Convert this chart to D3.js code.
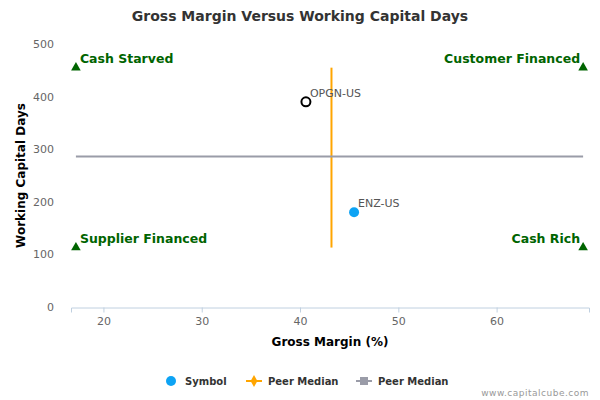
<!DOCTYPE html>
<html>
<head>
<meta charset="utf-8">
<script src="https://cdn.jsdelivr.net/npm/d3@7"></script>
<style>
  body { margin: 0; background: #fff; }
  svg { font-family: "DejaVu Sans", sans-serif; }
</style>
</head>
<body>
<svg id="chart" width="600" height="400"></svg>
<script>
// symbols: gross margin (%), working capital days
const symbols = ["OPGN-US", "ENZ-US"];
const grossMargin = [40.6, 45.5];
const workingDays = [390, 180];
const symbolFilled = [false, true];

// peer medians
const medianMargin = 43.2;
const medianDays = 286;

// quadrant corners
const quadrantNames = ["Cash Starved", "Customer Financed", "Supplier Financed", "Cash Rich"];
const quadrantMargin = [17.2, 68.8, 17.2, 68.8];
const quadrantDays = [455, 455, 113, 113];

const xTicks = [20, 30, 40, 50, 60];
const yTicks = [0, 100, 200, 300, 400, 500];

const svg = d3.select("#chart");
const plotLeft = 71, plotRight = 589, plotTop = 44, plotBottom = 307;

const x = d3.scaleLinear().domain([16.7, 69.4]).range([plotLeft, plotRight]);
const y = d3.scaleLinear().domain([0, 500]).range([plotBottom, plotTop]);

svg.append("text")
    .attr("x", 300).attr("y", 21)
    .attr("text-anchor", "middle")
    .attr("font-size", 14).attr("font-weight", "bold")
    .attr("fill", "#333")
    .text("Gross Margin Versus Working Capital Days");

// x axis
const xAxis = svg.append("g")
    .attr("transform", `translate(0,${plotBottom + 0.5})`)
    .call(d3.axisBottom(x).tickValues(xTicks).tickSize(5).tickPadding(5));
xAxis.select(".domain").attr("stroke", "#C0D0E0");
xAxis.selectAll(".tick line").attr("stroke", "#C0D0E0");
xAxis.selectAll("text").attr("fill", "#666").attr("font-size", 11)
    .attr("font-family", "DejaVu Sans");

// y axis, labels only
const yAxis = svg.append("g")
    .attr("transform", `translate(${plotLeft},0)`)
    .call(d3.axisLeft(y).tickValues(yTicks).tickSize(0).tickPadding(17));
yAxis.select(".domain").remove();
yAxis.selectAll("text").attr("fill", "#666").attr("font-size", 11)
    .attr("font-family", "DejaVu Sans");

svg.append("text")
    .attr("x", 330).attr("y", 346)
    .attr("text-anchor", "middle")
    .attr("font-size", 12).attr("font-weight", "bold")
    .text("Gross Margin (%)");

svg.append("text")
    .attr("transform", `translate(25,${(plotTop + plotBottom) / 2}) rotate(-90)`)
    .attr("text-anchor", "middle")
    .attr("font-size", 12).attr("font-weight", "bold")
    .text("Working Capital Days");

// peer median lines
const dayExtent = d3.extent(quadrantDays);
const marginExtent = d3.extent(quadrantMargin);
svg.append("line")
    .attr("x1", x(medianMargin)).attr("x2", x(medianMargin))
    .attr("y1", y(dayExtent[1])).attr("y2", y(dayExtent[0]))
    .attr("stroke", "#FFA500").attr("stroke-width", 2);
svg.append("line")
    .attr("x1", x(marginExtent[0])).attr("x2", x(marginExtent[1]))
    .attr("y1", y(medianDays)).attr("y2", y(medianDays))
    .attr("stroke", "#9A9CA8").attr("stroke-width", 2);

// quadrant markers
const tri = d3.symbol().type(d3.symbolTriangle).size(40);
quadrantNames.forEach((name, i) => {
    const px = x(quadrantMargin[i]), py = y(quadrantDays[i]);
    svg.append("path")
        .attr("d", tri())
        .attr("transform", `translate(${px},${py})`)
        .attr("fill", "#006400");
    const isLeft = i % 2 === 0;
    svg.append("text")
        .attr("x", isLeft ? px + 4 : px - 3)
        .attr("y", py - 5)
        .attr("text-anchor", isLeft ? "start" : "end")
        .attr("font-size", 12.5).attr("font-weight", "bold")
        .attr("fill", "#006400")
        .text(name);
});

// symbol points
symbols.forEach((s, i) => {
    const px = x(grossMargin[i]), py = y(workingDays[i]);
    svg.append("circle")
        .attr("cx", px).attr("cy", py).attr("r", symbolFilled[i] ? 5 : 4.5)
        .attr("fill", symbolFilled[i] ? "#0DA3F4" : "#fff")
        .attr("stroke", symbolFilled[i] ? "none" : "#000")
        .attr("stroke-width", 2);
    svg.append("text")
        .attr("x", px + 4).attr("y", py - 5)
        .attr("font-size", 11).attr("fill", "#555")
        .text(s);
});

// legend
const legend = svg.append("g").attr("font-size", 10).attr("font-weight", "bold").attr("fill", "#333");
legend.append("circle").attr("cx", 171).attr("cy", 381).attr("r", 5).attr("fill", "#0DA3F4");
legend.append("text").attr("x", 185).attr("y", 385).text("Symbol");
legend.append("line").attr("x1", 246).attr("x2", 262).attr("y1", 381).attr("y2", 381)
    .attr("stroke", "#FFA500").attr("stroke-width", 2);
legend.append("path").attr("d", d3.symbol().type(d3.symbolDiamond).size(40)())
    .attr("transform", "translate(254,381)").attr("fill", "#FFA500");
legend.append("text").attr("x", 268).attr("y", 385).text("Peer Median");
legend.append("line").attr("x1", 356).attr("x2", 372).attr("y1", 381).attr("y2", 381)
    .attr("stroke", "#9A9CA8").attr("stroke-width", 2);
legend.append("rect").attr("x", 360).attr("y", 377).attr("width", 8).attr("height", 8)
    .attr("fill", "#9A9CA8");
legend.append("text").attr("x", 378).attr("y", 385).text("Peer Median");

svg.append("text")
    .attr("x", 589).attr("y", 396)
    .attr("text-anchor", "end")
    .attr("font-size", 9).attr("fill", "#999")
    .attr("letter-spacing", 0.5)
    .text("www.capitalcube.com");
</script>
</body>
</html>
